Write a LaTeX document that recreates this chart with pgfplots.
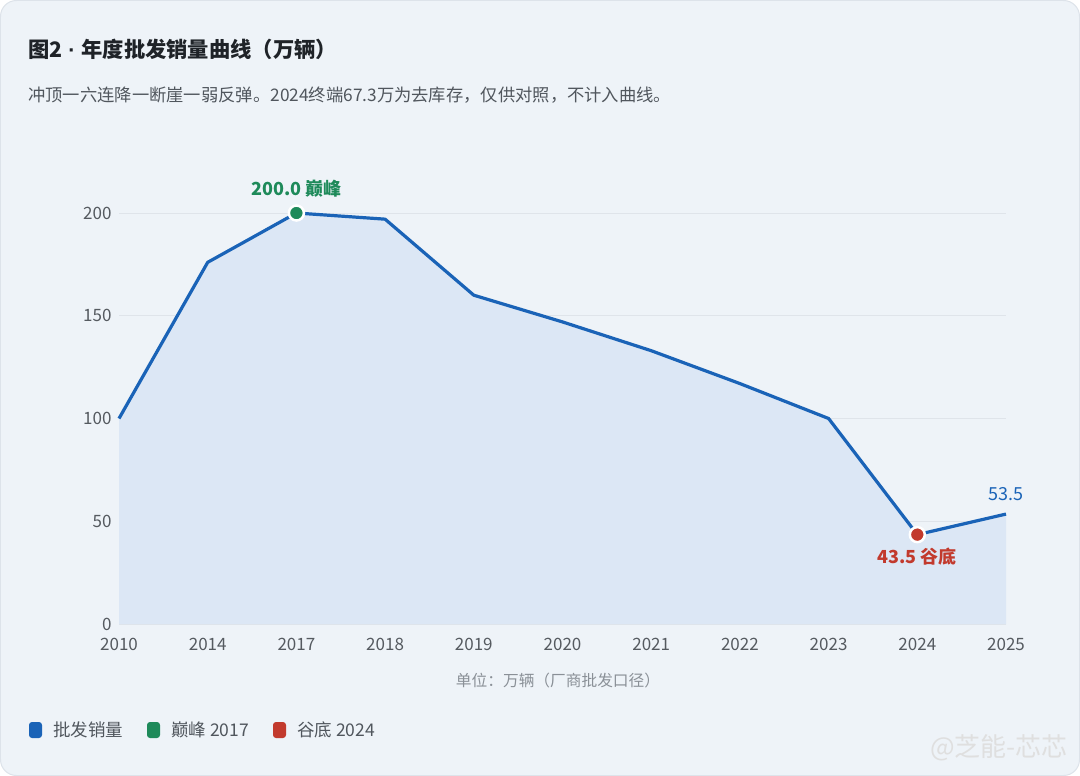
\documentclass[border=0pt]{standalone}
\usepackage{pgfplots}
\pgfplotsset{compat=1.18}
\usepackage{fontspec}
\setmainfont{Noto Sans CJK SC}
\newfontfamily\lat{Liberation Sans}
\definecolor{bgcard}{HTML}{EEF3F8}
\definecolor{cardborder}{HTML}{DDE3EA}
\definecolor{lineblue}{HTML}{1A63B7}
\definecolor{fillblue}{HTML}{DCE7F5}
\definecolor{peakgreen}{HTML}{1E8A5A}
\definecolor{lowred}{HTML}{C23A2D}
\definecolor{gridc}{HTML}{DFE4EA}
\definecolor{tickc}{HTML}{555A60}
\definecolor{titlec}{HTML}{1F2328}
\definecolor{subc}{HTML}{50565D}
\definecolor{unitc}{HTML}{8A9097}
\begin{document}
\begin{tikzpicture}[x=1bp,y=1bp]
\fill[white] (0,0) rectangle (1080,-776);
\draw[cardborder,fill=bgcard,rounded corners=16bp,line width=1bp] (0.5,-0.5) rectangle (1079.5,-775.5);
\node[anchor=west,font=\fontsize{21.3bp}{25bp}\selectfont\bfseries,text=titlec,inner sep=0] at (28,-49) {图2{\lat\ ·\ }年度批发销量曲线（万辆）};
\node[anchor=west,font=\fontsize{17.3bp}{20bp}\selectfont,text=subc,inner sep=0] at (28,-95) {冲顶一六连降一断崖一弱反弹。2024终端67.3万为去库存，仅供对照，不计入曲线。};
\begin{axis}[
  at={(119bp,-624bp)}, anchor=south west,
  scale only axis, width=887bp, height=411bp,
  xmin=0, xmax=10, ymin=0, ymax=200,
  clip=false,
  axis line style={draw=none},
  major tick length=0pt,
  xtick={0,...,10},
  xticklabels={2010,2014,2017,2018,2019,2020,2021,2022,2023,2024,2025},
  ytick={0,50,100,150,200},
  ymajorgrids, grid style={gridc,line width=0.8bp},
  tick label style={font=\fontsize{17bp}{20bp}\selectfont,text=tickc},
  /pgf/number format/assume math mode=true,
  xticklabel style={yshift=-11bp},
  yticklabel style={xshift=-4bp},
]
\addplot[fill=fillblue,draw=none] coordinates {(0,100) (1,176) (2,200) (3,197) (4,160) (5,147) (6,133) (7,117) (8,100) (9,43.5) (10,53.5)} \closedcycle;
\addplot[lineblue,line width=3.2bp,line join=round] coordinates {(0,100) (1,176) (2,200) (3,197) (4,160) (5,147) (6,133) (7,117) (8,100) (9,43.5) (10,53.5)};
\addplot[only marks,mark=*,mark size=7.5bp,mark options={fill=peakgreen,draw=white,line width=2.5bp}] coordinates {(2,200)};
\addplot[only marks,mark=*,mark size=7.5bp,mark options={fill=lowred,draw=white,line width=2.5bp}] coordinates {(9,43.5)};
\node[font=\fontsize{18bp}{21bp}\selectfont\bfseries,text=peakgreen] at (axis cs:2,200) [yshift=24bp] {200.0 巅峰};
\node[font=\fontsize{18bp}{21bp}\selectfont\bfseries,text=lowred] at (axis cs:9,43.5) [yshift=-22bp] {43.5 谷底};
\node[font=\fontsize{18bp}{21bp}\selectfont,text=lineblue] at (axis cs:10,53.5) [yshift=20bp] {53.5};
\end{axis}
\node[font=\fontsize{15.7bp}{19bp}\selectfont,text=unitc] at (558,-681) {单位：万辆（厂商批发口径）};
\foreach \x/\c/\t in {29/lineblue/批发销量,147/peakgreen/巅峰 2017,273/lowred/谷底 2024}{
  \fill[\c,rounded corners=3bp] (\x,-722) rectangle ++(13,-16);
  \node[anchor=west,font=\fontsize{17.5bp}{20bp}\selectfont,text=subc,inner sep=0] at (\x+24,-730) {\t};
}
\node[anchor=east,font=\fontsize{26bp}{30bp}\selectfont,text=white!75!gray,inner sep=0] at (1068,-748) {@芝能-芯芯};
\end{tikzpicture}
\end{document}
